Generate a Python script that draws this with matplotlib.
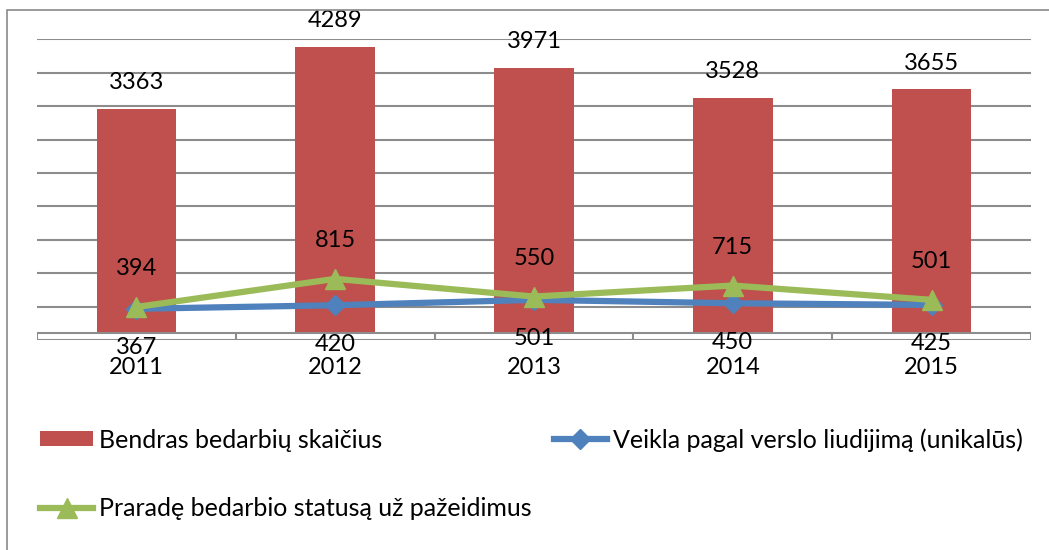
import matplotlib.pyplot as plt
from matplotlib.patches import Rectangle
import numpy as np

years = ['2011', '2012', '2013', '2014', '2015']
total = [3363, 4289, 3971, 3528, 3655]
business = [367, 420, 501, 450, 425]
lost_status = [394, 815, 550, 715, 501]

name_total = 'Bendras bedarbių skaičius'
name_business = 'Veikla pagal verslo liudijimą (unikalūs)'
name_lost = 'Praradę bedarbio statusą už pažeidimus'

RED = '#C0504D'
BLUE = '#4F81BD'
GREEN = '#9BBB59'
GRID = '#8c8c8c'
FS = 17
LFS = 18

plt.rcParams['font.family'] = ['Lato', 'DejaVu Sans']

W, H = 1049, 550
fig = plt.figure(figsize=(W / 100, H / 100), dpi=100)
ax = fig.add_axes([37 / W, 1 - 340 / H, (1031 - 37) / W, (340 - 39.3) / H])

x = np.arange(len(years))

# gridlines every 500, starting from -100 (axis min)
for g in np.arange(-100, 4401, 500):
    ax.axhline(g, color=GRID, lw=1.5, zorder=0)
ax.axhline(0, color=GRID, lw=1.5, zorder=4)
ax.vlines(np.arange(-0.5, len(years)), -100, 0, color=GRID, lw=1.5, zorder=4)

bars = ax.bar(x, total, width=0.4, color=RED, zorder=2, label=name_total)
l_bus, = ax.plot(x, business, color=BLUE, lw=4.5, marker='D', ms=10,
                 zorder=5, label=name_business)
l_lost, = ax.plot(x, lost_status, color=GREEN, lw=4.5, marker='^', ms=15,
                  zorder=6, label=name_lost)

for i in range(len(years)):
    ax.annotate(str(total[i]), (x[i], total[i]), xytext=(0, 26),
                textcoords='offset pixels', ha='center', va='center',
                fontsize=FS, annotation_clip=False)
    ax.annotate(str(lost_status[i]), (x[i], lost_status[i]), xytext=(0, 38),
                textcoords='offset pixels', ha='center', va='center',
                fontsize=FS, annotation_clip=False, zorder=7)
    ax.annotate(str(business[i]), (x[i], business[i]), xytext=(0, -39),
                textcoords='offset pixels', ha='center', va='center',
                fontsize=FS, annotation_clip=False, zorder=7)
    ax.annotate(years[i], (x[i], 0), xycoords=('data', 'axes fraction'),
                xytext=(0, -28), textcoords='offset pixels',
                ha='center', va='center', fontsize=FS, annotation_clip=False)

ax.set_xlim(-0.5, len(years) - 0.5)
ax.set_ylim(-100, 4400)
ax.set_xticks([])
ax.set_yticks([])
for s in ax.spines.values():
    s.set_visible(False)

# outer chart frame
fig.patches.append(Rectangle((7 / W, -0.1), 1.2, 1.1 - 10 / H,
                             transform=fig.transFigure, fill=False,
                             edgecolor='#8a8a8a', lw=1.2))

fig.legend([bars, l_lost, l_bus], [name_total, name_lost, name_business],
           ncol=2, loc='upper left', bbox_to_anchor=(40 / W, 1 - 428 / H),
           frameon=False, fontsize=LFS, handlelength=2.12, handleheight=0.56,
           handletextpad=0.24, columnspacing=0.88, labelspacing=1.82,
           borderaxespad=0, borderpad=0)

fig.savefig('out.png', dpi=100)
